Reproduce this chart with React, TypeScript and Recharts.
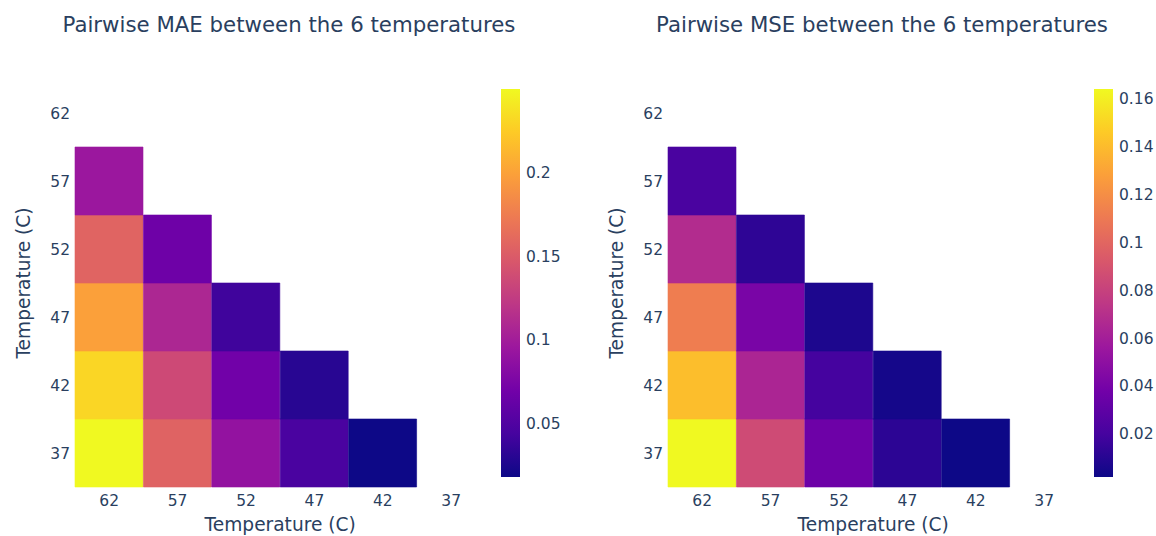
import { BarChart, Bar, XAxis, YAxis, Cell } from "recharts";

// columns left to right, rows bottom to top
const temps = [62, 57, 52, 47, 42, 37];
const rowTemps = [37, 42, 47, 52, 57, 62];

// MAE, one array per row (values in column order 62..37)
const maeRow37 = [0.25, 0.156, 0.09, 0.046, 0.018, null];
const maeRow42 = [0.231, 0.136, 0.069, 0.03, null, null];
const maeRow47 = [0.199, 0.108, 0.041, null, null, null];
const maeRow52 = [0.157, 0.067, null, null, null, null];
const maeRow57 = [0.095, null, null, null, null, null];
const maeRow62 = [null, null, null, null, null, null];

// MSE, same layout
const mseRow37 = [0.164, 0.085, 0.036, 0.0117, 0.002, null];
const mseRow42 = [0.141, 0.064, 0.0198, 0.0044, null, null];
const mseRow47 = [0.112, 0.041, 0.0069, null, null, null];
const mseRow52 = [0.068, 0.0125, null, null, null, null];
const mseRow57 = [0.0215, null, null, null, null, null];
const mseRow62 = [null, null, null, null, null, null];

const maeTicks = [0.05, 0.1, 0.15, 0.2];
const mseTicks = [0.02, 0.04, 0.06, 0.08, 0.1, 0.12, 0.14, 0.16];

const plasma = ["#0d0887", "#46039f", "#7201a8", "#9c179e", "#bd3786", "#d8576b", "#ed7953", "#fb9f3a", "#fdca26", "#f0f921"];

const FONT = "'DejaVu Sans', Verdana, sans-serif";
const INK = "#2a3f5f";
const TICK = { fill: INK, fontSize: 15.5, fontFamily: FONT };

function hexToRgb(h: string) {
  return [1, 3, 5].map((i) => parseInt(h.slice(i, i + 2), 16));
}

function colorAt(t: number) {
  const c = Math.max(0, Math.min(1, t)) * (plasma.length - 1);
  const i = Math.min(plasma.length - 2, Math.floor(c));
  const f = c - i;
  const a = hexToRgb(plasma[i]);
  const b = hexToRgb(plasma[i + 1]);
  const m = a.map((v, k) => Math.round(v + (b[k] - v) * f));
  return `rgb(${m[0]},${m[1]},${m[2]})`;
}

type Row = (number | null)[];

function Heatmap({ rows, title, ticks, left, id }: { rows: Row[]; title: string; ticks: number[]; left: number; id: string }) {
  const flat = rows.flat().filter((v): v is number => v != null);
  const zmin = Math.min(...flat);
  const zmax = Math.max(...flat);
  const color = (v: number) => colorAt((v - zmin) / (zmax - zmin));

  const data = temps.map((t) => {
    const d: Record<string, any> = { temp: String(t) };
    rowTemps.forEach((r) => (d["r" + r] = 1));
    return d;
  });

  const cbData = [{ name: "cb", range: [zmin, zmax] }];

  return (
    <div style={{ position: "absolute", left, top: 0, width: 580, height: 536 }}>
      <div
        style={{
          position: "absolute",
          left: 0,
          top: 14,
          width: 578,
          textAlign: "center",
          fontFamily: FONT,
          fontSize: 21.3,
          lineHeight: "21px",
          color: INK,
          whiteSpace: "nowrap",
        }}
      >
        {title}
      </div>
      <div style={{ position: "absolute", left: 0, top: 0 }}>
        <BarChart width={580} height={536} data={data} margin={{ top: 79, right: 94.6, bottom: 0, left: 0 }} barCategoryGap={0} barGap={0}>
          <XAxis
            dataKey="temp"
            type="category"
            height={49}
            axisLine={false}
            tickLine={false}
            tick={TICK}
            label={{ value: "Temperature (C)", position: "insideBottom", offset: 5, fill: INK, fontSize: 18.6, fontFamily: FONT }}
          />
          <YAxis
            type="number"
            domain={[0, 6]}
            ticks={[0.5, 1.5, 2.5, 3.5, 4.5, 5.5]}
            tickFormatter={(v: number) => String(rowTemps[Math.floor(v)])}
            width={75}
            axisLine={false}
            tickLine={false}
            tickSize={3}
            tickMargin={2}
            tick={TICK}
            label={{ value: "Temperature (C)", angle: -90, position: "insideLeft", offset: 23, fill: INK, fontSize: 18.6, fontFamily: FONT, style: { textAnchor: "middle" } }}
          />
          {rowTemps.map((r, k) => (
            <Bar key={r} dataKey={"r" + r} stackId="s" isAnimationActive={false}>
              {temps.map((t, j) => {
                const v = rows[k][j];
                const c = v == null ? "transparent" : color(v);
                return <Cell key={t} fill={c} stroke={v == null ? "none" : c} strokeWidth={0.6} />;
              })}
            </Bar>
          ))}
        </BarChart>
      </div>
      <div style={{ position: "absolute", left: 501, top: 0 }}>
        <BarChart width={79} height={536} data={cbData} margin={{ top: 89, right: 0, bottom: 59, left: 0 }} barCategoryGap={0}>
          <defs>
            <linearGradient id={id} x1="0" y1="1" x2="0" y2="0">
              {plasma.map((c, i) => (
                <stop key={c} offset={i / (plasma.length - 1)} stopColor={c} />
              ))}
            </linearGradient>
          </defs>
          <XAxis dataKey="name" type="category" hide />
          <YAxis
            type="number"
            orientation="right"
            domain={[zmin, zmax]}
            ticks={ticks}
            allowDataOverflow
            width={60}
            axisLine={false}
            tickLine={false}
            tickSize={6}
            tickMargin={0}
            tick={TICK}
          />
          <Bar dataKey="range" fill={`url(#${id})`} isAnimationActive={false} />
        </BarChart>
      </div>
    </div>
  );
}

export default function App() {
  const maeRows = [maeRow37, maeRow42, maeRow47, maeRow52, maeRow57, maeRow62];
  const mseRows = [mseRow37, mseRow42, mseRow47, mseRow52, mseRow57, mseRow62];
  return (
    <div style={{ position: "absolute", left: 0, top: 0, width: 1156, height: 536, background: "#fff", overflow: "hidden" }}>
      <Heatmap rows={maeRows} title="Pairwise MAE between the 6 temperatures" ticks={maeTicks} left={0} id="cbMae" />
      <Heatmap rows={mseRows} title="Pairwise MSE between the 6 temperatures" ticks={mseTicks} left={593} id="cbMse" />
    </div>
  );
}
